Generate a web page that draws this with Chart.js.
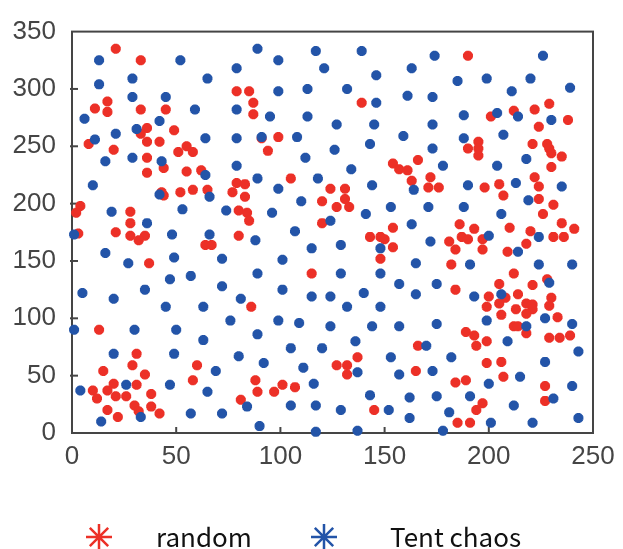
<!DOCTYPE html>
<html>
<head>
<meta charset="utf-8">
<script src="https://cdn.jsdelivr.net/npm/chart.js@4.4.1/dist/chart.umd.min.js"></script>
<style>
html, body { margin: 0; padding: 0; background: #fff; }
#wrap { width: 623px; height: 549px; }
</style>
</head>
<body>
<div id="wrap"><canvas id="scatterChart"></canvas></div>
<script>
// values
const randomX = [21,33,79,17,11,17,33,45,36,49,33,8,36,42,55,20,51,58,36,
    85,87,139,87,91,99,94,
    190,229,222,212,201,238,224,195,195,195,190,221,228,229,230,235,166,230,
    44,36,55,62,43,44,52,58,65,79,77,4,2,28,80,28,3,21,28,35,32,64,67,80,37,
    154,157,161,163,105,83,124,131,83,131,120,127,133,84,85,120,154,143,148,150,154,148,115,
    172,171,176,198,205,222,224,207,224,231,226,186,193,210,235,241,220,187,190,197,181,231,236,184,197,209,218,182,212,205,221,228,184,200,208,214,230,
    199,205,213,218,221,221,218,229,206,233,212,214,218,189,193,194,199,229,234,239,166,199,206,165,184,189,207,227,197,194,227,185,191,
    86,137,127,132,132,88,89,97,101,107,145,
    13,31,29,60,15,35,58,20,31,10,17,12,21,26,38,81,30,38,17,32,42,22];
const randomY = [335,325,298,289,283,280,282,282,266,264,261,252,254,254,250,247,245,245,240,
    298,288,288,278,257,258,246,
    329,287,282,281,276,273,267,254,248,242,248,252,252,248,244,241,238,232,
    231,227,228,229,210,207,210,212,212,218,210,198,192,193,194,183,174,175,172,172,168,164,164,172,148,
    235,230,229,220,222,217,213,213,206,204,202,197,197,192,185,183,179,171,171,169,162,152,139,
    223,214,214,214,217,223,215,207,204,199,191,182,178,179,183,178,176,171,169,169,167,171,171,160,160,158,165,147,139,130,129,134,125,119,118,121,118,
    110,113,108,113,112,108,104,111,103,101,93,93,87,88,85,76,80,83,83,85,76,61,62,54,44,46,49,41,26,20,28,9,9,
    110,66,59,59,51,46,36,36,42,40,20,
    90,69,59,59,54,51,46,43,42,37,37,30,32,32,34,29,24,23,20,19,17,14];

const tentX = [13,52,79,29,13,65,29,45,59,79,6,42,31,21,11,64,79,16,29,43,
    89,99,117,139,121,146,163,99,113,132,161,146,95,113,127,145,91,108,159,126,143,112,
    174,226,185,199,220,239,211,173,188,204,214,230,173,207,188,173,218,
    64,79,10,42,66,19,53,74,36,1,48,66,16,27,49,72,47,57,35,72,5,20,81,
    164,134,89,118,99,144,110,153,96,141,124,163,107,88,129,115,148,101,165,89,129,148,157,101,140,115,124,165,
    178,204,190,213,235,219,171,188,206,200,172,224,214,191,224,240,175,229,193,206,
    199,227,240,175,218,209,170,182,243,227,173,200,215,240,175,191,212,231,181,243,201,221,178,
    132,148,99,109,124,144,157,89,136,105,120,92,153,111,137,157,116,84,105,117,129,143,152,162,162,90,117,137,
    45,63,76,1,30,50,63,20,49,80,69,26,47,4,65,33,57,72,14];
const tentY = [325,325,318,309,304,309,293,293,282,282,274,272,265,261,256,257,257,237,240,237,
    335,325,333,333,318,312,318,298,300,300,294,288,276,276,269,269,258,258,259,247,252,240,
    329,329,307,309,309,301,298,293,277,279,276,273,269,260,257,248,239,
    225,233,216,208,206,193,195,194,183,173,173,173,157,148,153,152,134,137,125,128,122,117,117,
    212,230,222,222,213,216,202,197,192,191,185,182,176,168,164,161,161,151,148,139,139,139,130,125,122,119,119,121,
    233,233,216,218,215,203,197,197,191,172,167,171,158,147,147,147,130,131,119,121,
    98,100,95,95,93,80,76,66,71,62,54,43,49,41,32,32,24,30,18,13,9,9,2,
    110,110,98,96,93,93,93,86,80,74,74,61,66,57,53,51,43,23,24,24,20,33,20,31,13,6,1,2,
    110,110,98,90,90,90,81,69,69,67,54,42,42,37,36,14,17,17,10];

const xTicks = [0, 50, 100, 150, 200, 250];
const yTicks = [0, 50, 100, 150, 200, 250, 300, 350];
const seriesNames = ["random", "Tent chaos"];
const seriesColors = ["#ec3027", "#2354a8"];

const axisColor = "#454545";
const tickFont = { family: "'Liberation Sans', Arial, sans-serif", size: 26 };

function toPoints(xs, ys) {
    return xs.map((x, i) => ({ x: x, y: ys[i] }));
}

// box round the plot plus the small inward ticks
const framePlugin = {
    id: "frame",
    beforeDatasetsDraw(chart) {
        const { ctx, chartArea: a, scales } = chart;
        ctx.save();
        ctx.strokeStyle = axisColor;
        ctx.lineWidth = 2;
        ctx.strokeRect(a.left, a.top, a.right - a.left, a.bottom - a.top);
        xTicks.slice(1, -1).forEach(v => {
            const px = scales.x.getPixelForValue(v);
            ctx.beginPath();
            ctx.moveTo(px, a.bottom);
            ctx.lineTo(px, a.bottom - 6);
            ctx.stroke();
        });
        yTicks.slice(1, -1).forEach(v => {
            const py = scales.y.getPixelForValue(v);
            ctx.beginPath();
            ctx.moveTo(a.left - 2, py);
            ctx.lineTo(a.left + 6, py);
            ctx.stroke();
        });
        ctx.restore();
    }
};

function drawAsterisk(ctx, x, y, r, color) {
    ctx.save();
    ctx.strokeStyle = color;
    ctx.lineWidth = 2.5;
    ctx.beginPath();
    for (let k = 0; k < 4; k++) {
        const ang = k * Math.PI / 4;
        ctx.moveTo(x - r * Math.cos(ang), y - r * Math.sin(ang));
        ctx.lineTo(x + r * Math.cos(ang), y + r * Math.sin(ang));
    }
    ctx.stroke();
    ctx.restore();
}

// legend under the axis, as in the picture
const legendPlugin = {
    id: "bottomLegend",
    afterDraw(chart) {
        const ctx = chart.ctx;
        const y = 537;
        const items = [{ mark: 99, text: 156 }, { mark: 324, text: 390 }];
        ctx.save();
        ctx.font = "26px 'Noto Sans CJK JP', sans-serif";
        ctx.fillStyle = "#111";
        ctx.textBaseline = "middle";
        items.forEach((it, i) => {
            drawAsterisk(ctx, it.mark, y, 13, seriesColors[i]);
            ctx.fillText(seriesNames[i], it.text, y);
        });
        ctx.restore();
    }
};

const ctxScatter = document.getElementById("scatterChart").getContext("2d");

new Chart(ctxScatter, {
    type: "scatter",
    data: {
        datasets: [
            { label: seriesNames[0], data: toPoints(randomX, randomY), borderColor: seriesColors[0], backgroundColor: seriesColors[0],
              pointStyle: "star", pointRadius: 5, pointBorderWidth: 3.5, clip: false, order: 2 },
            { label: seriesNames[1], data: toPoints(tentX, tentY), borderColor: seriesColors[1], backgroundColor: seriesColors[1],
              pointStyle: "star", pointRadius: 5, pointBorderWidth: 3.5, clip: false, order: 1 }
        ]
    },
    options: {
        responsive: true,
        maintainAspectRatio: false,
        animation: false,
        layout: { padding: { top: 20, right: 30, left: 0, bottom: 0 } },
        plugins: { legend: { display: false }, tooltip: { enabled: false } },
        scales: {
            x: {
                type: "linear", min: 0, max: 250,
                afterBuildTicks: s => { s.ticks = xTicks.map(v => ({ value: v })); },
                afterFit: s => { s.height = 116; },
                grid: { display: false, drawTicks: false },
                border: { display: false },
                ticks: { font: tickFont, color: axisColor, padding: 8, maxRotation: 0 }
            },
            y: {
                type: "linear", min: 0, max: 350,
                afterBuildTicks: s => { s.ticks = yTicks.map(v => ({ value: v })); },
                afterFit: s => { s.width = 72; },
                grid: { display: false, drawTicks: false },
                border: { display: false },
                ticks: { font: tickFont, color: axisColor, padding: 16 }
            }
        }
    },
    plugins: [framePlugin, legendPlugin]
});
</script>
</body>
</html>
